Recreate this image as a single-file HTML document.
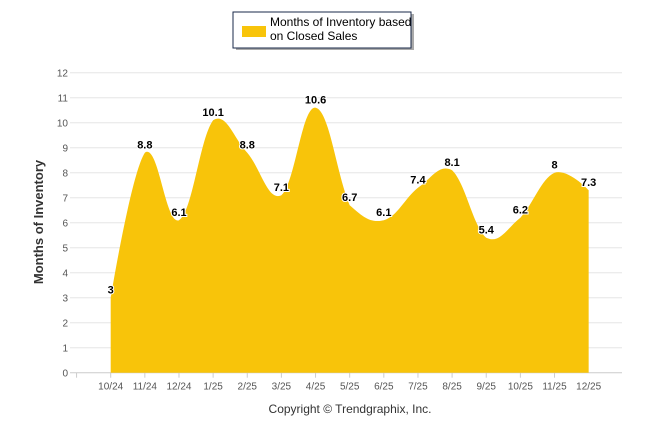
<!DOCTYPE html>
<html><head><meta charset="utf-8"><style>
body{margin:0;background:#fff;width:646px;height:434px;overflow:hidden;font-family:"Liberation Sans",Arial,sans-serif}
</style></head><body>
<svg id="chart" width="646" height="434" xmlns="http://www.w3.org/2000/svg">
<g>
<rect x="236" y="14" width="178" height="36" fill="#555" opacity="0.5"/>
<rect x="233" y="12" width="178" height="36" fill="#fff" stroke="#1a2a4a" stroke-width="1"/>
<rect x="242" y="26" width="24" height="11" fill="#f8c40a"/>
<text x="270" y="26" font-size="12" fill="#000">Months of Inventory based</text>
<text x="270" y="40" font-size="12" fill="#000">on Closed Sales</text>
</g>
<g id="grid"></g>
<g id="series"></g>
<g id="labels"></g>
<text transform="translate(43,222) rotate(-90)" text-anchor="middle" font-size="13" font-weight="bold" fill="#333">Months of Inventory</text>
<text x="350" y="413" text-anchor="middle" font-size="12" fill="#333">Copyright © Trendgraphix, Inc.</text>
</svg>
<script>
const categories=["10/24","11/24","12/24","1/25","2/25","3/25","4/25","5/25","6/25","7/25","8/25","9/25","10/25","11/25","12/25"];
const values=[3,8.8,6.1,10.1,8.8,7.1,10.6,6.7,6.1,7.4,8.1,5.4,6.2,8,7.3];
const yTicks=[0,1,2,3,4,5,6,7,8,9,10,11,12];
const NS="http://www.w3.org/2000/svg";
const x0=110.7,dx=34.14,yBase=372.7,yTop=72.7,yMax=12;
const xs=i=>x0+i*dx;
const ys=v=>yBase-(v/yMax)*(yBase-yTop);
function mk(t,a,p){const e=document.createElementNS(NS,t);for(const k in a)e.setAttribute(k,a[k]);p.appendChild(e);return e;}
const grid=document.getElementById('grid');
yTicks.forEach(t=>{
 const l=mk('line',{x1:70,x2:622,y1:ys(t),y2:ys(t),stroke:t===0?'#ccc':'#e6e6e6','stroke-width':1},grid);
 
 
 const tx=mk('text',{x:68,y:ys(t)+4,'text-anchor':'end','font-size':10,fill:'#555'},grid);
 tx.textContent=t;
 
 
});
categories.forEach((c,i)=>{
 const tk=mk('line',{x1:xs(i)-dx,x2:xs(i)-dx,y1:yBase,y2:yBase+5,stroke:'#ccc'},grid);
 
 
 const tx=mk('text',{x:xs(i),y:yBase+17,'text-anchor':'middle','font-size':10,fill:'#555'},grid);
 tx.textContent=c;
 
 
});
const pts=values.map((v,i)=>[xs(i),ys(v)]);
let d='M'+pts[0][0]+','+yBase+' L'+pts[0][0]+','+pts[0][1];
const s=1.5;
for(let i=0;i<pts.length-1;i++){
 const p0=pts[i],p1=pts[i+1];
 const pm=pts[i-1]||p0,p2=pts[i+2]||p1;
 function cp(prev,cur,next){
  if(prev===cur||next===cur)return [cur[0],cur[1]];
  const lx=(s*cur[0]+prev[0])/(s+1),ly=(s*cur[1]+prev[1])/(s+1);
  const rx=(s*cur[0]+next[0])/(s+1),ry=(s*cur[1]+next[1])/(s+1);
  const dl=Math.hypot(lx-cur[0],ly-cur[1]),dr=Math.hypot(rx-cur[0],ry-cur[1]);
  let cy=ly+(ry-ly)*dl/(dl+dr); // corrected
  const off=cur[1]-cy;
  return [lx,ly+off,rx,ry+off];
 }
 const a=cp(pm,p0,p1),b=cp(p0,p1,p2);
 const c1=a.length>2?[a[2],a[3]]:a, c2=b.length>2?[b[0],b[1]]:b;
 d+=' C'+c1[0]+','+c1[1]+' '+c2[0]+','+c2[1]+' '+p1[0]+','+p1[1];
}
d+=' L'+pts[pts.length-1][0]+','+yBase+' Z';
const area=mk('path',{d:d,fill:'#f8c40a'},document.getElementById('series'));


const lab=document.getElementById('labels');
values.forEach((v,i)=>{
 const t=mk('text',{x:xs(i),y:ys(v)-4,'text-anchor':'middle','font-size':11,'font-weight':'bold',fill:'#000',stroke:'#fff','stroke-width':2,'paint-order':'stroke'},lab);
 t.textContent=v;
 
 
});
</script>
</body></html>
